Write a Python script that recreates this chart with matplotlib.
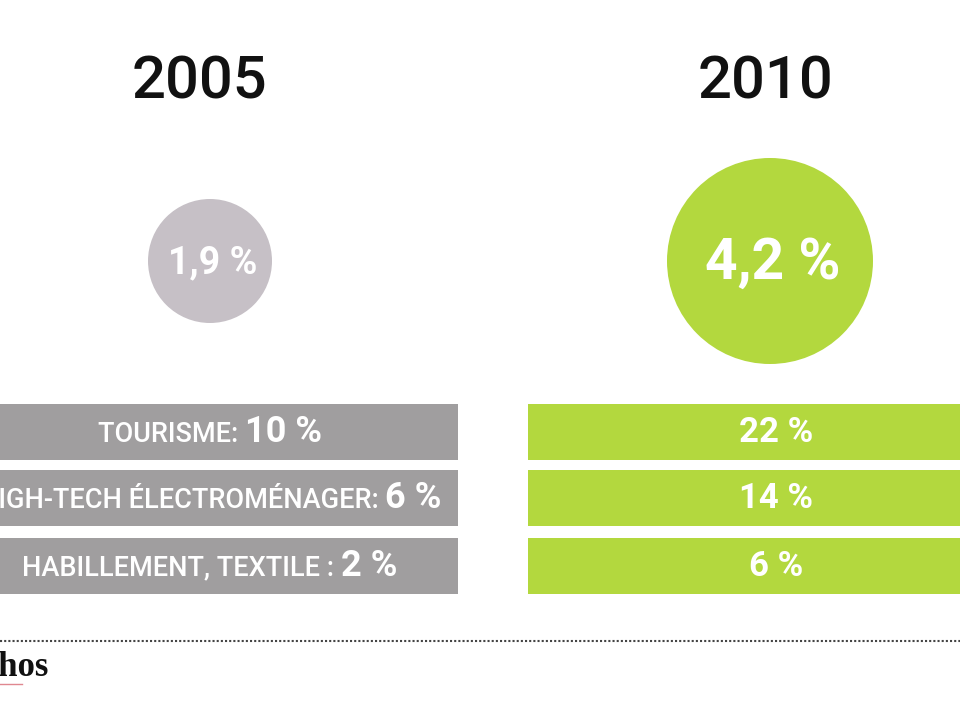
import matplotlib
matplotlib.use("Agg")
import matplotlib.pyplot as plt
from matplotlib.patches import Circle

years = ["2005", "2010"]
overall = [1.9, 4.2]
categories = ["TOURISME", "HIGH-TECH ÉLECTROMÉNAGER", "HABILLEMENT, TEXTILE"]
separators = [": ", ": ", " : "]
share_2005 = [10, 6, 2]
share_2010 = [22, 14, 6]

GREY = "#a09e9f"
LIGHT_GREY = "#c6c0c6"
GREEN = "#b3d83e"
FONT = "Roboto"

def pct(v):
    return (f"{v:.1f}".replace(".", ",") if v % 1 else f"{v:.0f}") + " %"

fig = plt.figure(figsize=(9.6, 7.2), dpi=100)
ax = fig.add_axes([0, 0, 1, 1])
ax.set_xlim(0, 960)
ax.set_ylim(720, 0)
ax.axis("off")

col_x = [210, 770]
title_x = [199, 766]
circle_r = [62, 103]
circle_col = [LIGHT_GREY, GREEN]
circle_fs = [27, 41]
for i, yr in enumerate(years):
    ax.text(title_x[i], 82, yr, ha="center", va="center",
            fontsize=43, family=FONT, weight="medium", color="#111111")
    ax.add_patch(Circle((col_x[i], 261), circle_r[i], color=circle_col[i], lw=0))
    ax.text(col_x[i] + 3, 263, pct(overall[i]), ha="center", va="center",
            fontsize=circle_fs[i], family=FONT, weight="bold", color="white")

rows_y = [432, 498, 566]
bar_h = 56
ax.barh(rows_y, 470, height=bar_h, left=-12, color=GREY)
ax.barh(rows_y, 450, height=bar_h, left=528, color=GREEN)

fig.canvas.draw()
r = fig.canvas.get_renderer()
for y, cat, sep, v in zip(rows_y, categories, separators, share_2005):
    t1 = ax.text(0, y + 2, cat + sep, ha="left", va="center", fontsize=19.5,
                 family=FONT, weight="medium", color="white")
    t2 = ax.text(0, y, f"{v} %", ha="left", va="center", fontsize=26,
                 family=FONT, weight="bold", color="white")
    w1 = t1.get_window_extent(r).width
    w2 = t2.get_window_extent(r).width
    x0 = 210 - (w1 + w2) / 2
    t1.set_x(x0)
    t2.set_x(x0 + w1)

for y, v in zip(rows_y, share_2010):
    ax.text(776, y, f"{v} %", ha="center", va="center", fontsize=25,
            family=FONT, weight="bold", color="white")

ax.plot([0, 960], [641, 641], color="#444444", lw=1.5, ls=(0, (1, 1)))
ax.text(48, 667, "Les Echos", ha="right", va="center", fontsize=25,
        family="Liberation Serif", weight="bold", color="#111111")
ax.plot([0, 22], [684, 684], color="#e08890", lw=1)

fig.savefig("out.png", dpi=100, facecolor="white")
